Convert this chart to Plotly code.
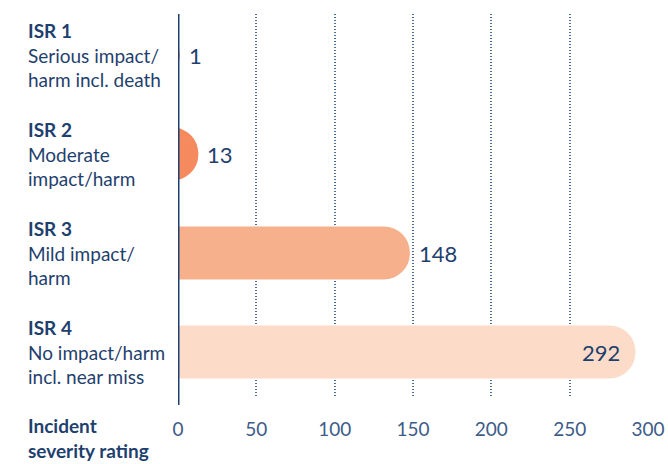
import plotly.graph_objects as go

categories = ["ISR 1", "ISR 2", "ISR 3", "ISR 4"]
descriptions = ["Serious impact/<br>harm incl. death", "Moderate<br>impact/harm",
                "Mild impact/<br>harm", "No impact/harm<br>incl. near miss"]
values = [1, 13, 148, 292]
colors = ["#ea5a33", "#f58a5e", "#f7b08c", "#fcdcc8"]
tick_vals = [0, 50, 100, 150, 200, 250, 300]
axis_title = "Incident<br>severity rating"

NAVY = "#1f3f6e"
TICK = "#3d5c88"
FONT = "Lato"

# bars start left of the (clipped) axis so the rounded end keeps a full radius
hidden_base = -60
fig = go.Figure()
fig.add_trace(go.Bar(
    y=categories, x=[v - hidden_base for v in values], base=hidden_base,
    orientation="h",
    marker=dict(color=colors, cornerradius="50%", line=dict(width=0)),
    width=0.535, hoverinfo="skip",
))

# value labels
for i, (c, v) in enumerate(zip(categories, values)):
    if i < 3:
        fig.add_annotation(x=v, y=c, xref="x", yref="y", text=str(v), showarrow=False,
                           xanchor="left", xshift=7, yshift=-1,
                           font=dict(family=FONT, size=22, color=NAVY))
    else:
        fig.add_annotation(x=v, y=c, xref="x", yref="y", text=str(v), showarrow=False,
                           xanchor="right", xshift=-13, yshift=-1,
                           font=dict(family=FONT, size=22, color=NAVY))

# category labels
for c, d in zip(categories, descriptions):
    fig.add_annotation(x=0, xref="paper", xshift=-152, y=c, yref="y",
                       text=f"<b>{c}</b><br>{d}", showarrow=False,
                       xanchor="left", yanchor="middle", align="left",
                       font=dict(family=FONT, size=19, color=NAVY))

fig.add_annotation(x=0, xref="paper", xshift=-152, y=0, yref="paper", yshift=-14,
                   text=f"<b>{axis_title}</b>", showarrow=False,
                   xanchor="left", yanchor="top", align="left",
                   font=dict(family=FONT, size=19, color=NAVY))

# zero axis line
fig.add_shape(type="line", x0=0, x1=0, xref="x", y0=-0.018, y1=1.0, yref="paper",
              line=dict(color=NAVY, width=3), layer="above")

fig.update_layout(
    width=668, height=464,
    margin=dict(l=178, r=20, t=14, b=66),
    plot_bgcolor="white", paper_bgcolor="white",
    showlegend=False,
    xaxis=dict(range=[0, 300], tickvals=tick_vals, showgrid=True,
               gridcolor="#4d6d99", griddash="1px,2px", gridwidth=1.5,
               zeroline=False, showline=False, automargin=False,
               ticks="outside", ticklen=14, tickcolor="rgba(0,0,0,0)",
               tickfont=dict(family=FONT, size=19, color=TICK)),
    yaxis=dict(categoryorder="array", categoryarray=categories,
               range=[3.465, -0.414], showticklabels=False, showgrid=False,
               zeroline=False, showline=False, automargin=False),
)

fig.write_html("out.html")
